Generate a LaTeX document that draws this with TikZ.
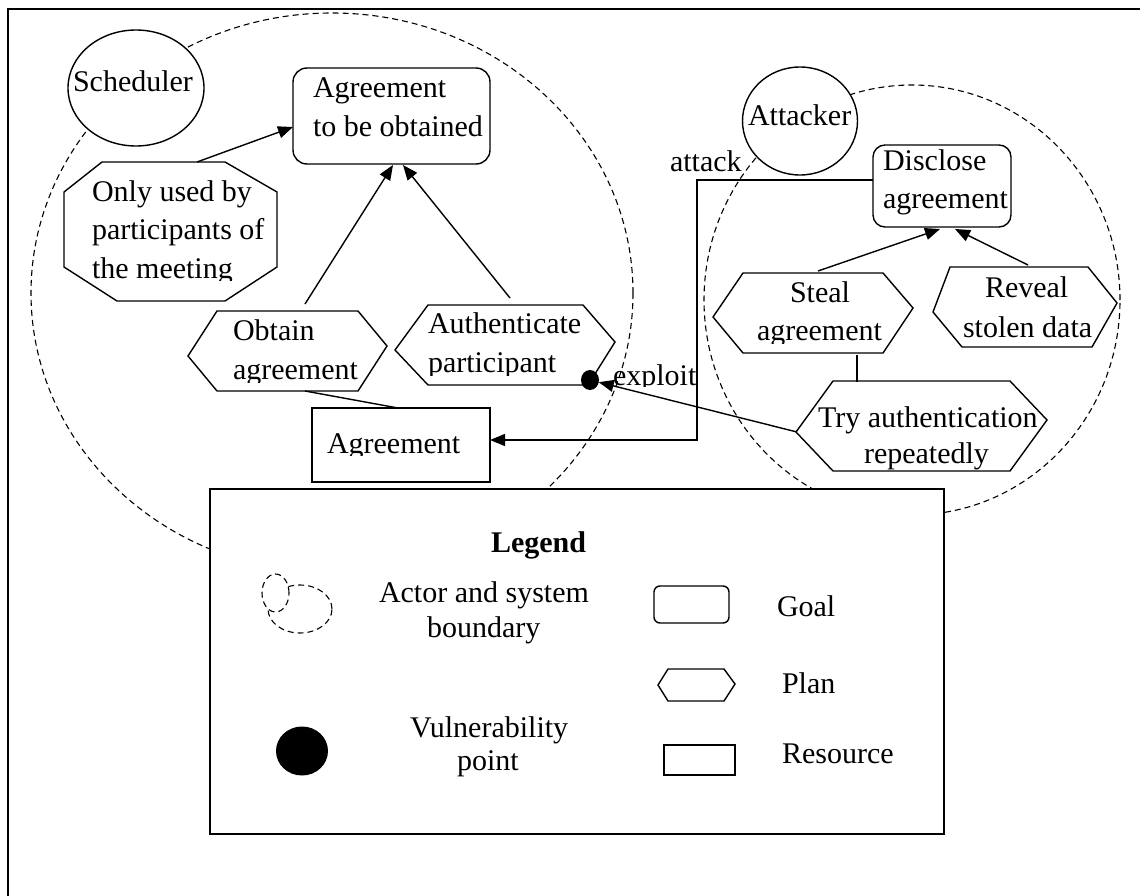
\documentclass[tikz,border=0pt]{standalone}
\usepackage{fontspec}
\setmainfont{Liberation Serif}
\usetikzlibrary{arrows.meta,shapes.geometric}
\begin{document}
\begin{tikzpicture}[x=1pt,y=-1pt,
  every node/.style={font=\fontsize{30}{36}\selectfont, inner sep=0pt, outer sep=0pt},
  lbl/.style={anchor=base west},
  shp/.style={draw, line width=1.4pt, fill=white, line join=miter},
  bnd/.style={draw, line width=1.1pt, dash pattern=on 6pt off 4pt},
  conn/.style={line width=1.4pt},
  arr/.style={conn, -{Triangle[length=15pt,width=12pt]}},
]
\useasboundingbox (0,0) rectangle (1140,896);
% outer frame
\draw[line width=1.6pt] (1140,9) -- (8,9) -- (8,896);

% actor boundaries
\draw[bnd] (332,293) ellipse [x radius=301pt, y radius=280pt];
\draw[bnd] (912,300) ellipse [x radius=208pt, y radius=215pt];

% actors
\node[shp, ellipse, minimum width=136pt, minimum height=116pt] (sched) at (136,88) {};
\node[lbl] (tsched) at (73,92) {Scheduler};
\node[shp, ellipse, minimum width=115pt, minimum height=108pt] (attacker) at (800,121) {};
\node[lbl] (tattacker) at (748,126) {Attacker};

% goals
\node[shp, rounded corners=14pt, minimum width=197pt, minimum height=96pt] (goal1) at (391.5,116) {};
\node[lbl] (tgoal1a) at (313,98) {Agreement};
\node[lbl] (tgoal1b) at (313,137) {to be obtained};
\node[shp, rounded corners=12pt, minimum width=138pt, minimum height=82pt] (goal2) at (942,186) {};
\node[lbl] (tgoal2a) at (883,171) {Disclose};
\node[lbl] (tgoal2b) at (883,208) {agreement};

% softgoal octagon
\draw[shp] (102,162) -- (225,162) -- (277,192) -- (277,267) -- (225,301) -- (117,301) -- (64,267) -- (64,192) -- cycle;
\coordinate (octT) at (197,162);
\node[lbl] (toct1) at (92,202) {Only used by};
\node[lbl] (toct2) at (92,240) {participants of};
\begin{scope}\clip (60,250) rectangle (280,280);
\node[lbl] (toct3) at (92,278) {the meeting};
\end{scope}

% plans
\draw[shp] (217,311) -- (358,311) -- (387,346) -- (358,391) -- (217,391) -- (188,356) -- cycle;
\coordinate (obtT) at (305,304);
\coordinate (obtB) at (305,391);
\node[lbl] (tobt1) at (233,340) {Obtain};
\begin{scope}\clip (220,350) rectangle (380,382);
\node[lbl] (tobt2) at (233,379) {agreement};
\end{scope}

\draw[shp] (428,305) -- (583,305) -- (615,342) -- (588,385) -- (428,385) -- (395,350) -- cycle;
\coordinate (autT) at (510,298);
\node[lbl] (taut1) at (428,333) {Authenticate};
\begin{scope}\clip (420,340) rectangle (600,375);
\node[lbl] (taut2) at (428,372) {participant};
\end{scope}

\draw[shp] (743,273) -- (883,273) -- (913,308) -- (883,353) -- (743,353) -- (713,317) -- cycle;
\coordinate (stT) at (818,271);
\coordinate (stB) at (857,355);
\node[lbl] (tst1) at (790,302) {Steal};
\begin{scope}\clip (740,310) rectangle (900,343);
\node[lbl] (tst2) at (757,340) {agreement};
\end{scope}

\draw[shp] (950,267) -- (1088,267) -- (1117,303) -- (1092,347) -- (962,347) -- (933,312) -- cycle;
\coordinate (rvT) at (1028,265);
\node[lbl] (trv1) at (985,297) {Reveal};
\node[lbl] (trv2) at (963,337) {stolen data};

\draw[shp] (833,381) -- (1010,381) -- (1047,420) -- (1010,471) -- (833,471) -- (796,432) -- cycle;
\coordinate (tryT) at (857,382);
\coordinate (tryL) at (797,432);
\node[lbl] (ttry1) at (818,427) {Try authentication};
\begin{scope}\clip (820,435) rectangle (1010,469);
\node[lbl] (ttry2) at (864,463) {repeatedly};
\end{scope}

% resource
\node[shp, minimum width=178pt, minimum height=74pt] (res) at (401,445) {};
\coordinate (resT) at (398,408);
\coordinate (resR) at (490,440);
\begin{scope}\clip (315,410) rectangle (488,455);
\node[lbl] (tres) at (327,453) {Agreement};
\end{scope}

% vulnerability point
\node[ellipse, fill=black, minimum width=18pt, minimum height=20pt] (vp) at (590,380) {};

% connectors
\draw[arr] (octT) -- (293,127) coordinate (g1L);
\draw[arr] (obtT) -- (393,165) coordinate (g1B1);
\draw[arr] (autT) -- (403,165) coordinate (g1B2);
\draw[conn] (obtB) -- (resT);
\draw[arr] (stT) -- (940,229) coordinate (g2B1);
\draw[arr] (rvT) -- (955,229) coordinate (g2B2);
\draw[conn] (stB) -- (tryT);
\draw[arr] (tryL) -- (vp);
\coordinate (g2L) at (873,180);
\coordinate (c1) at (697,180);
\coordinate (c2) at (697,440);
\draw[arr] (g2L) -- (c1) -- (c2) -- (resR);
\node[lbl] (tattack) at (670,172) {attack};
\begin{scope}\clip (600,350) rectangle (700,386);
\node[lbl] (texploit) at (613,385) {exploit};
\end{scope}

% legend
\node[draw, line width=1.5pt, fill=white, minimum width=734pt, minimum height=345pt] (legend) at (577,661.5) {};
\node[lbl, font=\fontsize{30}{36}\selectfont\bfseries] (tlegend) at (491,552) {Legend};
\draw[bnd] (300,609) ellipse [x radius=32pt, y radius=24pt];
\draw[bnd, fill=white] (275.5,593) ellipse [x radius=13.5pt, y radius=19pt];
\node[lbl] (tl1a) at (379,602) {Actor and system};
\node[lbl] (tl1b) at (427,637) {boundary};
\node[ellipse, fill=black, minimum width=52pt, minimum height=49pt] (lvp) at (302,751) {};
\node[lbl] (tl2a) at (410,737) {Vulnerability};
\node[lbl] (tl2b) at (457,770) {point};
\node[shp, rounded corners=6pt, minimum width=75pt, minimum height=37pt] (lgoal) at (691.5,604.5) {};
\node[lbl] (tl3) at (777,616) {Goal};
\draw[shp] (668,669) -- (724,669) -- (735,684) -- (724,701) -- (668,701) -- (658,685) -- cycle;
\node[lbl] (tl4) at (782,693) {Plan};
\node[shp, minimum width=71pt, minimum height=30pt] (lres) at (699.5,760) {};
\node[lbl] (tl5) at (782,763) {Resource};
\end{tikzpicture}
\end{document}
